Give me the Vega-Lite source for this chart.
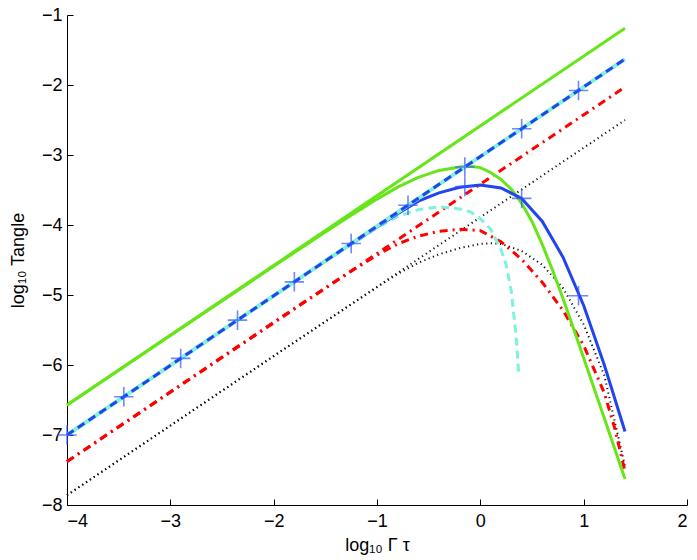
{
  "$schema": "https://vega.github.io/schema/vega-lite/v6.json",
  "width": 620,
  "height": 490,
  "autosize": "none",
  "padding": {"left": 67, "top": 15, "right": 10, "bottom": 55},
  "background": "white",
  "data": {
    "values": [
      {"s": "g_line", "x": -4, "y": -6.57},
      {"s": "g_line", "x": 1.4, "y": -1.19},
      {"s": "b_line", "x": -4, "y": -7.0},
      {"s": "b_line", "x": 1.4, "y": -1.63},
      {"s": "r_line", "x": -4, "y": -7.38},
      {"s": "r_line", "x": 1.4, "y": -2.03},
      {"s": "k_line", "x": -4, "y": -7.86},
      {"s": "k_line", "x": 1.4, "y": -2.5},

      {"s": "g_curve", "x": -4, "y": -6.57},
      {"s": "g_curve", "x": -3, "y": -5.58},
      {"s": "g_curve", "x": -2, "y": -4.59},
      {"s": "g_curve", "x": -1.5, "y": -4.1},
      {"s": "g_curve", "x": -1.25, "y": -3.86},
      {"s": "g_curve", "x": -1.0, "y": -3.63},
      {"s": "g_curve", "x": -0.8, "y": -3.46},
      {"s": "g_curve", "x": -0.6, "y": -3.32},
      {"s": "g_curve", "x": -0.4, "y": -3.22},
      {"s": "g_curve", "x": -0.2, "y": -3.17},
      {"s": "g_curve", "x": -0.1, "y": -3.16},
      {"s": "g_curve", "x": 0, "y": -3.18},
      {"s": "g_curve", "x": 0.1, "y": -3.25},
      {"s": "g_curve", "x": 0.2, "y": -3.35},
      {"s": "g_curve", "x": 0.3, "y": -3.49},
      {"s": "g_curve", "x": 0.4, "y": -3.69},
      {"s": "g_curve", "x": 0.5, "y": -3.95},
      {"s": "g_curve", "x": 0.6, "y": -4.28},
      {"s": "g_curve", "x": 0.7, "y": -4.65},
      {"s": "g_curve", "x": 0.8, "y": -5.05},
      {"s": "g_curve", "x": 0.9, "y": -5.47},
      {"s": "g_curve", "x": 1.0, "y": -5.9},
      {"s": "g_curve", "x": 1.2, "y": -6.76},
      {"s": "g_curve", "x": 1.4, "y": -7.63},

      {"s": "b_curve", "x": -1.5, "y": -4.51},
      {"s": "b_curve", "x": -1.25, "y": -4.27},
      {"s": "b_curve", "x": -1.0, "y": -4.03},
      {"s": "b_curve", "x": -0.8, "y": -3.84},
      {"s": "b_curve", "x": -0.6, "y": -3.66},
      {"s": "b_curve", "x": -0.4, "y": -3.54},
      {"s": "b_curve", "x": -0.2, "y": -3.46},
      {"s": "b_curve", "x": 0, "y": -3.43},
      {"s": "b_curve", "x": 0.2, "y": -3.47},
      {"s": "b_curve", "x": 0.4, "y": -3.62},
      {"s": "b_curve", "x": 0.6, "y": -3.95},
      {"s": "b_curve", "x": 0.8, "y": -4.46},
      {"s": "b_curve", "x": 1.0, "y": -5.15},
      {"s": "b_curve", "x": 1.2, "y": -6.0},
      {"s": "b_curve", "x": 1.4, "y": -6.95},

      {"s": "c_curve", "x": -1.5, "y": -4.52},
      {"s": "c_curve", "x": -1.25, "y": -4.28},
      {"s": "c_curve", "x": -1.0, "y": -4.04},
      {"s": "c_curve", "x": -0.8, "y": -3.88},
      {"s": "c_curve", "x": -0.6, "y": -3.78},
      {"s": "c_curve", "x": -0.4, "y": -3.74},
      {"s": "c_curve", "x": -0.2, "y": -3.77},
      {"s": "c_curve", "x": -0.1, "y": -3.81},
      {"s": "c_curve", "x": 0, "y": -3.91},
      {"s": "c_curve", "x": 0.1, "y": -4.06},
      {"s": "c_curve", "x": 0.2, "y": -4.35},
      {"s": "c_curve", "x": 0.25, "y": -4.57},
      {"s": "c_curve", "x": 0.3, "y": -4.95},
      {"s": "c_curve", "x": 0.35, "y": -5.65},
      {"s": "c_curve", "x": 0.37, "y": -6.1},

      {"s": "r_curve", "x": -4, "y": -7.38},
      {"s": "r_curve", "x": -2, "y": -5.39},
      {"s": "r_curve", "x": -1.5, "y": -4.9},
      {"s": "r_curve", "x": -1.25, "y": -4.66},
      {"s": "r_curve", "x": -1.0, "y": -4.43},
      {"s": "r_curve", "x": -0.8, "y": -4.27},
      {"s": "r_curve", "x": -0.6, "y": -4.16},
      {"s": "r_curve", "x": -0.4, "y": -4.09},
      {"s": "r_curve", "x": -0.2, "y": -4.06},
      {"s": "r_curve", "x": 0, "y": -4.08},
      {"s": "r_curve", "x": 0.2, "y": -4.24},
      {"s": "r_curve", "x": 0.4, "y": -4.49},
      {"s": "r_curve", "x": 0.6, "y": -4.82},
      {"s": "r_curve", "x": 0.8, "y": -5.22},
      {"s": "r_curve", "x": 1.0, "y": -5.72},
      {"s": "r_curve", "x": 1.2, "y": -6.4},
      {"s": "r_curve", "x": 1.3, "y": -6.9},
      {"s": "r_curve", "x": 1.4, "y": -7.52},

      {"s": "k_curve", "x": -4, "y": -7.86},
      {"s": "k_curve", "x": -2, "y": -5.87},
      {"s": "k_curve", "x": -1.5, "y": -5.38},
      {"s": "k_curve", "x": -1.0, "y": -4.89},
      {"s": "k_curve", "x": -0.8, "y": -4.7},
      {"s": "k_curve", "x": -0.6, "y": -4.54},
      {"s": "k_curve", "x": -0.4, "y": -4.42},
      {"s": "k_curve", "x": -0.2, "y": -4.33},
      {"s": "k_curve", "x": 0, "y": -4.27},
      {"s": "k_curve", "x": 0.1, "y": -4.26},
      {"s": "k_curve", "x": 0.2, "y": -4.27},
      {"s": "k_curve", "x": 0.4, "y": -4.37},
      {"s": "k_curve", "x": 0.6, "y": -4.57},
      {"s": "k_curve", "x": 0.8, "y": -4.9},
      {"s": "k_curve", "x": 1.0, "y": -5.42},
      {"s": "k_curve", "x": 1.2, "y": -6.15},
      {"s": "k_curve", "x": 1.4, "y": -7.45},

      {"s": "mark", "x": -4, "y": -7.0},
      {"s": "mark", "x": -3.45, "y": -6.453},
      {"s": "mark", "x": -2.9, "y": -5.906},
      {"s": "mark", "x": -2.35, "y": -5.359},
      {"s": "mark", "x": -1.8, "y": -4.812},
      {"s": "mark", "x": -1.25, "y": -4.265},
      {"s": "mark", "x": -0.7, "y": -3.718},
      {"s": "mark", "x": -0.15, "y": -3.172},
      {"s": "mark", "x": 0.4, "y": -2.625},
      {"s": "mark", "x": 0.95, "y": -2.078},
      {"s": "mark", "x": -0.15, "y": -3.45},
      {"s": "mark", "x": 0.4, "y": -3.62},
      {"s": "mark", "x": 0.95, "y": -5.01}
    ]
  },
  "encoding": {
    "x": {"field": "x", "type": "quantitative", "scale": {"domain": [-4, 2], "nice": false, "zero": false}, "axis": null},
    "y": {"field": "y", "type": "quantitative", "scale": {"domain": [-8, -1], "nice": false, "zero": false}, "axis": null}
  },
  "layer": [
    {
      "transform": [{"filter": "datum.s === 'k_curve'"}],
      "mark": {"type": "line", "color": "#111111", "strokeWidth": 2, "strokeDash": [1.2, 3.4]},
      "encoding": {
        "x": {
          "field": "x",
          "type": "quantitative",
          "axis": {
            "orient": "bottom",
            "values": [-4, -3, -2, -1, 0, 1, 2],
            "format": "d",
            "ticks": false,
            "title": "log₁₀ Γ τ",
            "titleX": 310,
            "titleY": 45,
            "titleBaseline": "alphabetic",
            "labelPadding": 7
          }
        },
        "y": {
          "field": "y",
          "type": "quantitative",
          "axis": {
            "orient": "left",
            "values": [-8, -7, -6, -5, -4, -3, -2, -1],
            "format": "d",
            "ticks": false,
            "title": "log₁₀ Tangle",
            "titleX": -44,
            "titleY": 245,
            "titleAngle": -90,
            "titleAlign": "center",
            "titleBaseline": "alphabetic",
            "labelPadding": 5
          }
        }
      }
    },
    {"transform": [{"filter": "datum.s === 'k_line'"}], "mark": {"type": "line", "color": "#111111", "strokeWidth": 2, "strokeDash": [1.2, 3.4]}},
    {"transform": [{"filter": "datum.s === 'r_curve'"}], "mark": {"type": "line", "color": "#ff0000", "strokeWidth": 3, "strokeDash": [8, 5, 2, 5]}},
    {"transform": [{"filter": "datum.s === 'r_line'"}], "mark": {"type": "line", "color": "#ff0000", "strokeWidth": 3, "strokeDash": [8, 5, 2, 5]}},
    {"transform": [{"filter": "datum.s === 'g_curve'"}], "mark": {"type": "line", "color": "#66e619", "strokeWidth": 3}},
    {"transform": [{"filter": "datum.s === 'g_line'"}], "mark": {"type": "line", "color": "#66e619", "strokeWidth": 3}},
    {"transform": [{"filter": "datum.s === 'c_curve'"}], "mark": {"type": "line", "color": "#7ff2dd", "strokeWidth": 3, "strokeDash": [8, 5]}},
    {"transform": [{"filter": "datum.s === 'b_curve'"}], "mark": {"type": "line", "color": "#2244ee", "strokeWidth": 3}},
    {"transform": [{"filter": "datum.s === 'b_line'"}], "mark": {"type": "line", "color": "#7ff2dd", "strokeWidth": 4}},
    {"transform": [{"filter": "datum.s === 'b_line'"}], "mark": {"type": "line", "color": "#2244ee", "strokeWidth": 3, "strokeDash": [8, 5]}},
    {
      "transform": [{"filter": "datum.s === 'mark'"}],
      "mark": {"type": "point", "shape": "M-1,0H1M0,-1V1", "size": 380, "stroke": "#3355ff", "strokeWidth": 1.6, "opacity": 0.7, "filled": false},
      "encoding": {
        "x": {
          "field": "x",
          "type": "quantitative",
          "axis": {
            "orient": "top",
            "offset": -490,
            "values": [-4, -3, -2, -1, 0, 1, 2],
            "labels": false,
            "domain": false,
            "ticks": true,
            "tickSize": 6,
            "tickWidth": 1,
            "tickColor": "#000000",
            "title": null
          }
        },
        "y": {
          "field": "y",
          "type": "quantitative",
          "axis": {
            "orient": "right",
            "offset": -620,
            "values": [-8, -7, -6, -5, -4, -3, -2, -1],
            "labels": false,
            "domain": false,
            "ticks": true,
            "tickSize": 6,
            "tickWidth": 1,
            "tickColor": "#000000",
            "title": null
          }
        }
      }
    }
  ],
  "resolve": {"axis": {"x": "independent", "y": "independent"}},
  "config": {
    "view": {"stroke": null},
    "axis": {
      "grid": false,
      "domainColor": "#000000",
      "domainWidth": 1,
      "tickColor": "#000000",
      "labelFont": "Liberation Sans",
      "labelFontSize": 18,
      "labelColor": "#000000",
      "titleFont": "Liberation Sans",
      "titleFontSize": 18,
      "titleFontWeight": "normal",
      "titleColor": "#000000"
    }
  }
}
